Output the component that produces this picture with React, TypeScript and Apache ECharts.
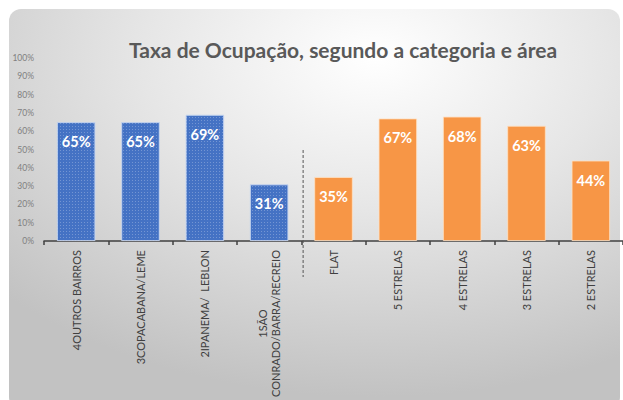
import React, { useEffect, useRef } from "react";
import * as echarts from "echarts";

const areaCategories = [
  "4OUTROS BAIRROS",
  "3COPACABANA/LEME",
  "2IPANEMA/  LEBLON",
  "1SÃO\nCONRADO/BARRA/RECREIO",
];
const hotelCategories = ["FLAT", "5 ESTRELAS", "4 ESTRELAS", "3 ESTRELAS", "2 ESTRELAS"];
const areaValues = [65, 65, 69, 31];
const hotelValues = [35, 67, 68, 63, 44];
const yTicks = [0, 10, 20, 30, 40, 50, 60, 70, 80, 90, 100];

const TITLE = "Taxa de Ocupação, segundo a categoria e área";
const FONT = "Lato, 'Open Sans', sans-serif";

export default function App() {
  const ref = useRef<HTMLDivElement>(null);

  useEffect(() => {
    document.body.style.margin = "0";
    if (!ref.current) return;
    const chart = echarts.init(ref.current, null, { renderer: "svg" });

    const gridLeft = 44;
    const gridWidth = 583;
    const gridTop = 58;
    const gridBottom = 157;
    const catW = gridWidth / (areaCategories.length + hotelCategories.length);
    const sepX = gridLeft + catW * areaCategories.length;

    const categories = [...areaCategories, ...hotelCategories];
    const data = [
      ...areaValues.map((v) => ({
        value: v,
        itemStyle: {
          color: "#4472c4",
          borderColor: "rgba(200,215,240,0.6)",
          borderWidth: 1,
          decal: {
            symbol: "rect",
            symbolSize: 1,
            color: "rgba(255,255,255,0.25)",
            dashArrayX: [1, 2],
            dashArrayY: [1, 2],
          },
        },
      })),
      ...hotelValues.map((v) => ({
        value: v,
        itemStyle: {
          color: "#f79646",
          borderColor: "rgba(255,225,195,0.8)",
          borderWidth: 1,
        },
      })),
    ];

    const labelFont = 11;

    chart.setOption({
      animation: false,
      title: {
        text: TITLE,
        left: 338,
        top: 34,
        textAlign: "center",
        textStyle: {
          fontFamily: FONT,
          fontWeight: "bold",
          fontSize: 21,
          color: "#595959",
        },
      },
      graphic: [
        {
          type: "rect",
          z: -100,
          silent: true,
          shape: { x: 9, y: 9, width: 611, height: 400, r: 12 },
          style: {
            fill: {
              type: "radial",
              x: 0.6,
              y: 0.12,
              r: 0.85,
              colorStops: [
                { offset: 0, color: "#ffffff" },
                { offset: 0.45, color: "#e6e6e6" },
                { offset: 1, color: "#c2c2c2" },
              ],
            },
          },
        },
        {
          type: "line",
          z: 10,
          silent: true,
          shape: { x1: sepX, y1: 150, x2: sepX, y2: 277 },
          style: { stroke: "#555555", lineWidth: 1, lineDash: [3, 2] },
        },
      ],
      grid: {
        left: gridLeft,
        top: gridTop,
        width: gridWidth,
        bottom: gridBottom,
        containLabel: false,
      },
      xAxis: {
        type: "category",
        data: categories,
        axisLine: { lineStyle: { color: "#404040", width: 1.5 } },
        axisTick: { show: true, length: 4, lineStyle: { color: "#404040", width: 1.5 } },
        axisLabel: {
          rotate: 90,
          interval: 0,
          margin: 9,
          fontFamily: FONT,
          fontSize: labelFont,
          color: "#404040",
          lineHeight: 13,
          formatter: (v: string) => {
            const parts = v.split("\n");
            if (parts.length === 1) return v;
            return `{c|${parts[0]}}\n{n|${parts[1]}}`;
          },
          rich: {
            c: { align: "center", fontFamily: FONT, fontSize: labelFont, color: "#404040", lineHeight: 13 },
            n: { fontFamily: FONT, fontSize: labelFont, color: "#404040", lineHeight: 13 },
          },
        },
      },
      yAxis: {
        type: "value",
        min: 0,
        max: 100,
        interval: 10,
        axisLine: { show: false },
        axisTick: { show: false },
        splitLine: { show: false },
        axisLabel: {
          margin: 10,
          fontFamily: FONT,
          fontSize: 8.5,
          color: "#808080",
          formatter: (v: number) => (yTicks.includes(v) ? `${v}%` : ""),
        },
      },
      series: [
        {
          type: "bar",
          data,
          barWidth: "60%",
          label: {
            show: true,
            position: "insideTop",
            distance: 12,
            formatter: "{c}%",
            fontFamily: FONT,
            fontWeight: "bold",
            fontSize: 14.5,
            color: "#ffffff",
          },
        },
      ],
    });

    return () => chart.dispose();
  }, []);

  return <div ref={ref} style={{ width: 623, height: 400 }} />;
}
